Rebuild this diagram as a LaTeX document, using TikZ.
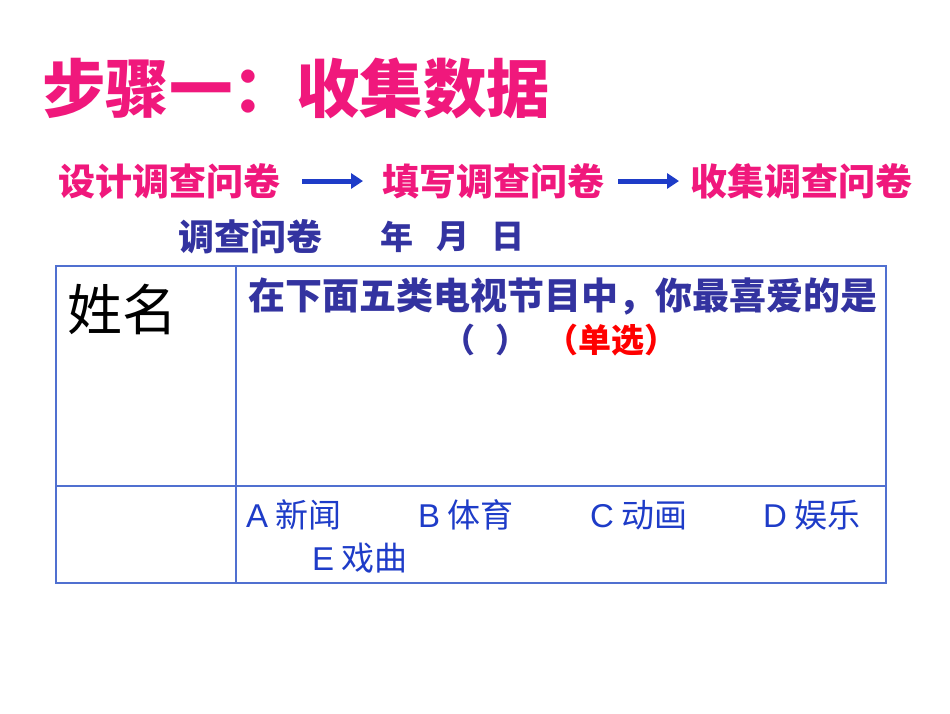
\documentclass[tikz,border=0pt]{standalone}
\usepackage{fontspec}
\setmainfont{Liberation Sans}
\newfontfamily\cjk{Noto Sans CJK SC}
\definecolor{mag}{HTML}{F0187C}
\definecolor{dblue}{HTML}{3333A0}
\definecolor{tblue}{HTML}{1E3CC8}
\definecolor{lblue}{HTML}{5070D0}
\begin{document}
\begin{tikzpicture}[x=1pt,y=-1pt,
  t/.style={inner sep=0pt,anchor=west},
  arr/.style={draw=tblue,line width=5pt,-{Triangle[length=12pt,width=15pt]}}]
\usetikzlibrary{arrows.meta}
\useasboundingbox[fill=white] (0,0) rectangle (950,713);
\node[t,text=mag] (title) at (42,88) {\cjk\bfseries\fontsize{63.5}{63.5}\selectfont 步骤一：收集数据};
\node[t,text=mag] (s1) at (58,181) {\cjk\bfseries\fontsize{37}{37}\selectfont 设计调查问卷};
\node[t,text=mag] (s2) at (382,181) {\cjk\bfseries\fontsize{37}{37}\selectfont 填写调查问卷};
\node[t,text=mag] (s3) at (690,181) {\cjk\bfseries\fontsize{37}{37}\selectfont 收集调查问卷};
\coordinate (a1) at (302,181); \coordinate (a2) at (363,181);
\coordinate (b1) at (618,181); \coordinate (b2) at (679,181);
\draw[arr] (a1) -- (a2);
\draw[arr] (b1) -- (b2);
\node[t,text=dblue] (q) at (178,237) {\cjk\bfseries\fontsize{36}{36}\selectfont 调查问卷};
\node[t,text=dblue] (y) at (380,237) {\cjk\bfseries\fontsize{33}{33}\selectfont 年};
\node[t,text=dblue] (m) at (436,237) {\cjk\bfseries\fontsize{33}{33}\selectfont 月};
\node[t,text=dblue] (d) at (491,237) {\cjk\bfseries\fontsize{33}{33}\selectfont 日};
\draw[lblue,line width=1.2pt] (56,266) rectangle (886,583);
\draw[lblue,line width=1.2pt] (236,266) -- (236,583);
\draw[lblue,line width=1.2pt] (56,486) -- (886,486);
\node[t] (name) at (67,309) {\cjk\fontsize{55}{55}\selectfont 姓名};
\node[t,text=dblue] (qq) at (248,297) {\cjk\bfseries\fontsize{37}{37}\selectfont 在下面五类电视节目中，你最喜爱的是};
\node[t,text=dblue] (p1) at (442,340) {\cjk\bfseries\fontsize{33}{33}\selectfont （};
\node[t,text=dblue] (p2) at (495,340) {\cjk\bfseries\fontsize{33}{33}\selectfont ）};
\node[t,text=red] (dx) at (545,340) {\cjk\bfseries\fontsize{33}{33}\selectfont （单选）};
\foreach \n/\x/\yy/\l/\w in {oa/246/515/A/新闻,ob/418/515/B/体育,oc/590/515/C/动画,od/763/515/D/娱乐,oe/312/558/E/戏曲}
  \node[t,text=tblue] (\n) at (\x,\yy) {\fontsize{33}{33}\selectfont \l\hspace{7pt}{\cjk\fontsize{33}{33}\selectfont\w}};
\end{tikzpicture}
\end{document}
